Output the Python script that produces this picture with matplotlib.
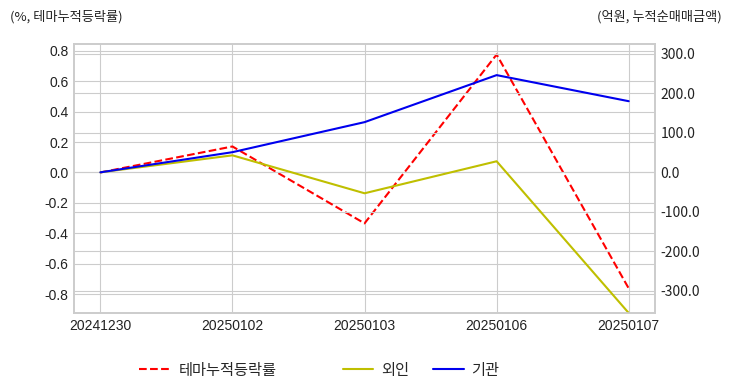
import numpy as np
import matplotlib
matplotlib.use('Agg')
from matplotlib import pyplot as plt

dates = ['20241230', '20250102', '20250103', '20250106', '20250107']
theme_rate = [0.0, 0.171, -0.335, 0.776, -0.763]   # 테마누적등락률 (%)
foreign = [0.0, 43.0, -53.0, 28.0, -356.0]          # 외인 (억원)
inst = [0.0, 51.0, 127.0, 246.0, 180.0]             # 기관 (억원)

plt.style.use('seaborn-v0_8-whitegrid')
plt.rcParams['font.family'] = ['Liberation Sans', 'Noto Sans CJK KR', 'DejaVu Sans']
kr = ['Noto Sans CJK KR', 'DejaVu Sans']

fig = plt.figure(figsize=(7.32, 3.92), dpi=100)
ax = fig.add_axes([0.101, 0.2015, 0.794, 0.6865])
ax2 = ax.twinx()

x = np.arange(len(dates))
l1, = ax.plot(x, theme_rate, 'r--', lw=1.5, label='테마누적등락률')
l2, = ax2.plot(x, foreign, color='#bfbf00', lw=1.5, label='외인')
l3, = ax2.plot(x, inst, color='#0000ee', lw=1.5, label='기관')

ax.set_xlim(-0.2, 4.2)
ax.set_ylim(-0.925, 0.846)
ax2.set_ylim(-356, 325)
ax.set_xticks(x)
ax.set_xticklabels(dates, fontsize=10, color='#222222')
ax.set_yticks([-0.8, -0.6, -0.4, -0.2, 0.0, 0.2, 0.4, 0.6, 0.8])
ax.set_yticklabels(['%.1f' % v for v in ax.get_yticks()], fontsize=10, color='#222222')
ax2.set_yticks([-300, -200, -100, 0, 100, 200, 300])
ax2.set_yticklabels(['%.1f' % v for v in ax2.get_yticks()], fontsize=10,
                    color='#222222', family=kr)
ax2.grid(True, color='#cccccc', lw=0.8)
ax.grid(True, color='#cccccc', lw=0.8)
for a in (ax, ax2):
    for s in a.spines.values():
        s.set_visible(True)
        s.set_color('#cccccc')
        s.set_linewidth(1.2)
    a.tick_params(length=0, pad=4)

fig.text(10/732, 1-17/392, '(%, 테마누적등락률)', fontsize=9.5, family=kr,
         ha='left', va='center', color='#222222')
fig.text(722/732, 1-17/392, '(억원, 누적순매매금액)', fontsize=9.5, family=kr,
         ha='right', va='center', color='#222222')

leg1 = fig.legend(handles=[l1], loc='center left', bbox_to_anchor=(125/732, 1-370/392),
                  frameon=False, prop={'family': kr, 'size': 11}, handlelength=2.0,
                  handletextpad=0.6)
leg2 = fig.legend(handles=[l2, l3], loc='center left', bbox_to_anchor=(329/732, 1-370/392),
                  ncol=2, frameon=False, prop={'family': kr, 'size': 11},
                  handlelength=2.0, handletextpad=0.5, columnspacing=1.6)

fig.savefig('out.png', dpi=100)
